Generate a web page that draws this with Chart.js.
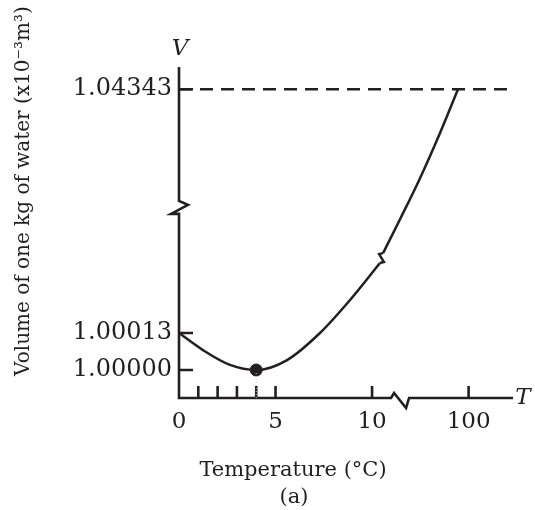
<!DOCTYPE html>
<html>
<head>
<meta charset="utf-8">
<script src="https://cdn.jsdelivr.net/npm/chart.js"></script>
<style>
  html, body { margin: 0; padding: 0; background: #fff; }
  #wrap { width: 535px; height: 510px; }
</style>
</head>
<body>
<div id="wrap"><canvas id="chart"></canvas></div>
<script>
(function () {
    "use strict";

    // Axis positions are drawn (schematic) positions, both axes are broken.
    // T axis: 0..10 are degrees, the "100" mark sits at 15 after the break.
    const tempTicks = [0, 5, 10, 15];
    const tempTickLabels = ["0", "5", "10", "100"];
    const tempMinorTicks = [1, 2, 3, 4, 5, 10, 15];

    // V axis in units of 1e-5 above 1.00000 below the break
    const volTicks = [0, 13, 98.7];
    const volTickLabels = ["1.00000", "1.00013", "1.04343"];

    // curve, lower piece (0..~10 C) and upper piece (to 100 C)
    const lowerTemp = [0, 1.24, 2.64, 4, 5.6, 7.3, 8.86, 10.41];
    const lowerVol = [13, 7, 1.8, 0, 3.5, 13, 24.6, 37.6];
    const upperTemp = [10.57, 11.45, 12.49, 13.52, 14.45];
    const upperVol = [41.1, 53, 67.5, 83.3, 98.7];

    // density maximum at 4 C
    const minTemp = [4];
    const minVol = [0];

    const ink = "#231f20";
    const serif = '"DejaVu Serif", serif';
    const tMin = 0, tMax = 17.3, vMin = -9.84, vMax = 106.5;
    const tBreak = 11.45, vBreak = 57;

    const toPoints = (xs, ys) => xs.map((x, i) => ({ x: x, y: ys[i] }));

    const brokenAxes = {
        id: "brokenAxes",
        beforeDatasetsDraw(chart) {
            const { ctx, chartArea: a, scales: { x, y } } = chart;
            const x0 = x.getPixelForValue(0);
            const y0 = y.getPixelForValue(vMin);
            const xb = x.getPixelForValue(tBreak);
            const yb = y.getPixelForValue(vBreak);
            ctx.save();
            ctx.strokeStyle = ink;
            ctx.lineWidth = 2.6;
            ctx.lineJoin = "miter";

            // V axis with break
            ctx.beginPath();
            ctx.moveTo(x0, a.top);
            ctx.lineTo(x0, yb - 7);
            ctx.lineTo(x0 + 9, yb - 3);
            ctx.lineTo(x0 - 8, yb + 6);
            ctx.lineTo(x0, yb + 6);
            ctx.lineTo(x0, y0);
            // T axis with break
            ctx.lineTo(xb - 9, y0);
            ctx.lineTo(xb - 6, y0 - 5);
            ctx.lineTo(xb + 6, y0 + 10);
            ctx.lineTo(xb + 9, y0);
            ctx.lineTo(a.right, y0);
            ctx.stroke();

            // tick marks
            ctx.beginPath();
            volTicks.forEach(v => {
                const py = y.getPixelForValue(v);
                ctx.moveTo(x0, py);
                ctx.lineTo(x0 + 14, py);
            });
            tempMinorTicks.forEach(t => {
                const px = x.getPixelForValue(t);
                ctx.moveTo(px, y0);
                ctx.lineTo(px, y0 - 12);
            });
            ctx.stroke();
            ctx.restore();
        },
        afterDatasetsDraw(chart) {
            // small break mark joining the two pieces of the curve
            const { ctx } = chart;
            const lo = chart.getDatasetMeta(0).data;
            const up = chart.getDatasetMeta(1).data;
            const p1 = lo[lo.length - 1], p2 = up[0];
            ctx.save();
            ctx.strokeStyle = ink;
            ctx.lineWidth = 2.4;
            ctx.beginPath();
            ctx.moveTo(p1.x, p1.y);
            ctx.lineTo(p1.x + 4, p1.y - 1);
            ctx.lineTo(p2.x - 4, p2.y + 1);
            ctx.lineTo(p2.x, p2.y);
            ctx.stroke();
            ctx.restore();
        },
        afterDraw(chart) {
            const { ctx, scales: { x } } = chart;
            ctx.save();
            ctx.fillStyle = ink;
            ctx.textAlign = "center";
            ctx.textBaseline = "middle";

            ctx.font = "italic 23px " + serif;
            ctx.fillText("V", x.getPixelForValue(0) + 1, 49);
            ctx.fillText("T", 523, 398);

            ctx.font = "21px " + serif;
            ctx.fillText("Temperature (°C)", 293, 471);
            ctx.fillText("(a)", 294, 498);

            ctx.translate(24, 191);
            ctx.rotate(-Math.PI / 2);
            ctx.font = "20px " + serif;
            ctx.fillText("Volume of one kg of water (x10⁻³m³)", 0, 0);
            ctx.restore();
        },
    };

    const ctx = document.getElementById("chart").getContext("2d");
    new Chart(ctx, {
        type: "scatter",
        data: {
            datasets: [
                {
                    label: "lower",
                    data: toPoints(lowerTemp, lowerVol),
                    showLine: true,
                    borderColor: ink,
                    borderWidth: 2.5,
                    pointRadius: 0,
                    cubicInterpolationMode: "monotone",
                },
                {
                    label: "upper",
                    data: toPoints(upperTemp, upperVol),
                    showLine: true,
                    borderColor: ink,
                    borderWidth: 2.5,
                    pointRadius: 0,
                    tension: 0.4,
                },
                {
                    label: "limit",
                    data: [{ x: tMin, y: volTicks[2] }, { x: tMax, y: volTicks[2] }],
                    showLine: true,
                    borderColor: ink,
                    borderWidth: 2.6,
                    borderDash: [13, 8],
                    pointRadius: 0,
                },
                {
                    label: "drop",
                    data: [{ x: minTemp[0], y: minVol[0] }, { x: minTemp[0], y: vMin }],
                    showLine: true,
                    borderColor: "#c4c4c4",
                    borderWidth: 1,
                    borderDash: [1, 2],
                    pointRadius: 0,
                },
                {
                    label: "minimum",
                    data: toPoints(minTemp, minVol),
                    pointRadius: 6,
                    pointBackgroundColor: ink,
                    pointBorderColor: ink,
                },
            ],
        },
        options: {
            responsive: true,
            maintainAspectRatio: false,
            animation: false,
            events: [],
            layout: { padding: { top: 67, right: 22, bottom: 0, left: 0 } },
            plugins: {
                legend: { display: false },
                tooltip: { enabled: false },
            },
            scales: {
                x: {
                    type: "linear",
                    min: tMin,
                    max: tMax,
                    grid: { display: false, drawTicks: false },
                    border: { display: false },
                    afterBuildTicks: s => { s.ticks = tempTicks.map(v => ({ value: v })); },
                    afterFit: s => { s.height = 112; },
                    ticks: {
                        padding: 10,
                        color: ink,
                        autoSkip: false,
                        maxRotation: 0,
                        font: { family: serif, size: 23 },
                        callback: (value, index) => tempTickLabels[index],
                    },
                },
                y: {
                    type: "linear",
                    min: vMin,
                    max: vMax,
                    grid: { display: false, drawTicks: false },
                    border: { display: false },
                    afterBuildTicks: s => { s.ticks = volTicks.map(v => ({ value: v })); },
                    afterFit: s => { s.width = 179; },
                    ticks: {
                        padding: 7,
                        color: ink,
                        autoSkip: false,
                        font: { family: serif, size: 24 },
                        callback: (value, index) => volTickLabels[index],
                    },
                },
            },
        },
        plugins: [brokenAxes],
    });
})();
</script>
</body>
</html>
